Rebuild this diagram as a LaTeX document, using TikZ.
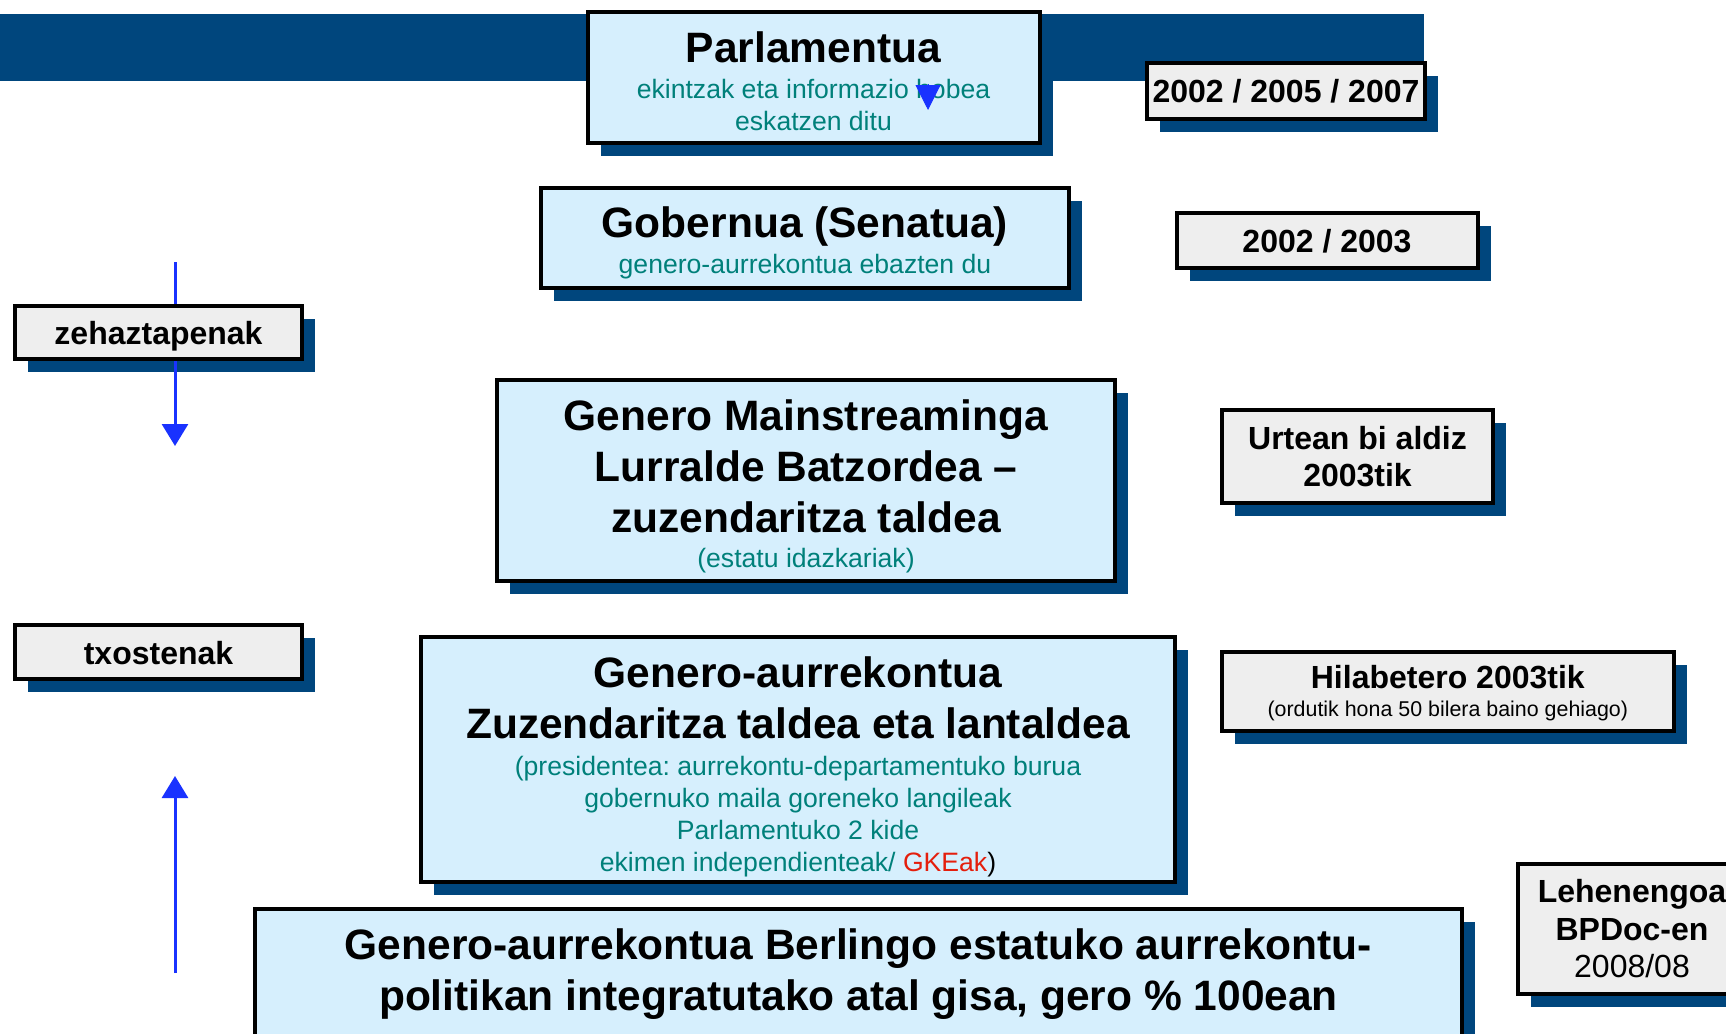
\documentclass[tikz,border=0pt]{standalone}
\usepackage{fontspec}
\setmainfont{Liberation Sans}
\usetikzlibrary{arrows.meta,shadows,positioning}
\definecolor{bandblue}{RGB}{0,70,125}
\definecolor{boxblue}{RGB}{214,239,253}
\definecolor{boxgrey}{RGB}{238,238,238}
\definecolor{noteteal}{RGB}{0,128,122}
\definecolor{gkered}{RGB}{228,30,12}
\definecolor{arrowblue}{RGB}{25,50,255}
\newcommand{\bigbold}{\fontsize{42.5}{51}\selectfont\bfseries}
\newcommand{\tealnote}{\fontsize{26.6}{32}\selectfont\mdseries\color{noteteal}}
\newcommand{\yearbold}{\fontsize{32}{37.5}\selectfont\bfseries}
\frenchspacing
\tikzset{
  framed/.style={draw=black, line width=4pt, inner sep=0pt,
    drop shadow={shadow xshift=13pt, shadow yshift=-13pt, fill=bandblue, opacity=1}},
  bluebox/.style={framed, fill=boxblue},
  greybox/.style={framed, fill=boxgrey, align=center, font=\yearbold},
  oneline/.style={text height=24pt, text depth=-1pt},
  boxtext/.style={anchor=north, align=center, inner sep=0pt, font=\bigbold},
  bluearrow/.style={draw=arrowblue, line width=3pt, -{Triangle[width=26pt,length=22pt]}}
}
\begin{document}
\begin{tikzpicture}[x=1pt,y=-1pt]
\useasboundingbox (0,0) rectangle (1726,1033);
\fill[bandblue] (0,14) rectangle (1424,81);      %band

% blue boxes
\node[bluebox, minimum width=452pt, minimum height=131pt] (parl) at (813.5,77.6) {};
\node[bluebox, minimum width=528pt, minimum height=99.5pt] (gob) at (805,237.8) {};
\node[bluebox, minimum width=618pt, minimum height=201.5pt] (gml) at (806,480.3) {};
\node[bluebox, minimum width=754pt, minimum height=245pt] (zuz) at (798,759.5) {};
\node[bluebox, minimum width=1207pt, minimum height=180pt] (ber) at (858.5,998.5) {};

\node[boxtext] (parl-txt) at ([yshift=-21pt]parl.north)
  {Parlamentua\\[-14.5pt]{\tealnote ekintzak eta informazio hobea}\\[-19pt]{\tealnote eskatzen ditu}};
\node[boxtext] (gob-txt) at ([yshift=-20pt]gob.north)
  {Gobernua (Senatua)\\[-14.5pt]{\tealnote genero-aurrekontua ebazten du}};
\node[boxtext] (gml-txt) at ([yshift=-21.5pt]gml.north)
  {Genero Mainstreaminga\\Lurralde Batzordea --\\zuzendaritza taldea\\[-15.5pt]{\tealnote (estatu idazkariak)}};
\node[boxtext] (zuz-txt) at ([yshift=-21.5pt]zuz.north)
  {Genero-aurrekontua\\Zuzendaritza taldea eta lantaldea\\[-14.5pt]
   {\tealnote (presidentea: aurrekontu-departamentuko burua}\\[-19pt]
   {\tealnote gobernuko maila goreneko langileak}\\[-19pt]
   {\tealnote Parlamentuko 2 kide}\\[-19pt]
   {\tealnote ekimen independienteak/ \textcolor{gkered}{GKEak}\textcolor{black}{)}}};
\node[boxtext] (ber-txt) at ([yshift=-21.5pt]ber.north)
  {Genero-aurrekontua Berlingo estatuko aurrekontu-\\politikan integratutako atal gisa, gero \% 100ean};

% grey boxes
\node[greybox, oneline, minimum width=278pt, minimum height=56.5pt] (y1) at (1286,90.8) {2002 / 2005 / 2007};
\node[greybox, oneline, minimum width=301pt, minimum height=55pt] (y2) at (1327,240.5) {2002 / 2003};
\node[greybox, minimum width=271pt, minimum height=93pt] (urt) at (1357.5,456.5) {Urtean bi aldiz\\2003tik};
\node[greybox, text depth=-5.5pt, minimum width=451.5pt, minimum height=79.5pt] (hil) at (1447.8,691.3)
  {Hilabetero 2003tik\\[-9.5pt]{\fontsize{21.4}{25}\selectfont\mdseries (ordutik hona 50 bilera baino gehiago)}};
\node[greybox, minimum width=228pt, minimum height=130pt] (leh) at (1632,929) {Lehenengoa\\BPDoc-en\\{\mdseries 2008/08}};
\node[greybox, oneline, minimum width=287pt, minimum height=53pt] (zeh) at (158.5,332.5) {zehaztapenak};
\node[greybox, oneline, minimum width=287pt, minimum height=54pt] (txo) at (158.5,652) {txostenak};

% arrows
\coordinate (zin) at (175,262);
\coordinate (zout) at (175,446);
\coordinate (tin) at (175,973);
\coordinate (tout) at (175,776);
\draw[draw=arrowblue, line width=3pt] (zin) -- (zin |- zeh.north);
\draw[bluearrow] (zout |- zeh.south) -- (zout);
\draw[bluearrow] (tin) -- (tout);
\coordinate (ptop) at (928,84);
\coordinate (ptip) at (928,110);
\draw[draw=arrowblue, line width=1pt, -{Triangle[width=25pt,length=25pt]}] (ptop) -- (ptip);
\end{tikzpicture}
\end{document}
